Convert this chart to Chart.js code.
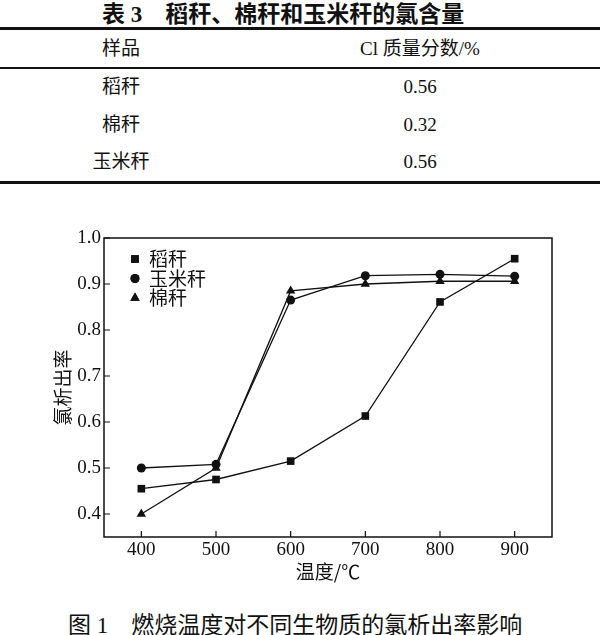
<!DOCTYPE html>
<html>
<head>
<meta charset="utf-8">
<script src="https://cdn.jsdelivr.net/npm/chart.js@4/dist/chart.umd.min.js"></script>
<style>
  body { margin: 0; background: #fff; }
  #page { position: relative; width: 600px; height: 635px; font-family: "Liberation Serif", "Noto Sans CJK SC", serif; color: #111; }
  .t { position: absolute; white-space: nowrap; line-height: 26px; }
  .rule { position: absolute; left: 0; width: 600px; background: #111; }
  #wrap { position: absolute; left: 0; top: 200px; width: 600px; height: 400px; }
</style>
</head>
<body>
<div id="page">
  <div class="t" style="left:102px; top:-1px; font-size:23px; font-weight:bold;">表 3<span style="font-family:'Noto Sans CJK SC'">　稻秆、棉秆和玉米秆的氯含量</span></div>
  <div class="rule" style="top:27px; height:3px;"></div>
  <div class="t" id="h1" style="left:51px; width:140px; text-align:center; top:36px; font-size:19px;"></div>
  <div class="t" id="h2" style="left:300px; width:240px; text-align:center; top:36px; font-size:19px;"></div>
  <div class="rule" style="top:67px; height:1.5px;"></div>
  <div id="rows"></div>
  <div class="rule" style="top:181px; height:3px;"></div>
  <div id="wrap"><canvas id="chart"></canvas></div>
  <div class="t" style="left:68px; top:610px; font-size:23px;">图 1　<span style="font-family:'Noto Sans CJK SC'">燃烧温度对不同生物质的氯析出率影响</span></div>
</div>
<script>
// table 3
const tableHead = ['样品', 'Cl 质量分数/%'];
const samples = ['稻秆', '棉秆', '玉米秆'];
const clContent = ['0.56', '0.32', '0.56'];

// figure 1
const temps = [400, 500, 600, 700, 800, 900];
const seriesNames = ['稻秆', '玉米秆', '棉秆'];
const riceStraw = [0.455, 0.475, 0.515, 0.613, 0.861, 0.955];
const cornStalk = [0.500, 0.508, 0.865, 0.918, 0.921, 0.917];
const cottonStalk = [0.400, 0.500, 0.885, 0.900, 0.906, 0.906];
const xTicks = [400, 500, 600, 700, 800, 900];
const yTicks = [0.4, 0.5, 0.6, 0.7, 0.8, 0.9, 1.0];

document.getElementById('h1').textContent = tableHead[0];
document.getElementById('h2').textContent = tableHead[1];
const rowsDiv = document.getElementById('rows');
const rowY = [74, 112, 149];
samples.forEach((s, i) => {
  const a = document.createElement('div');
  a.className = 't';
  a.style.cssText = `left:51px; width:140px; text-align:center; top:${rowY[i]}px; font-size:19px;`;
  a.textContent = s;
  const b = document.createElement('div');
  b.className = 't';
  b.style.cssText = `left:300px; width:240px; text-align:center; top:${rowY[i]}px; font-size:19px;`;
  b.textContent = clContent[i];
  rowsDiv.appendChild(a);
  rowsDiv.appendChild(b);
});

Chart.defaults.font.family = '"Liberation Serif", "Noto Sans CJK SC", serif';
Chart.defaults.color = '#111';

const pts = arr => temps.map((t, i) => ({ x: t, y: arr[i] }));
const styles = [
  { pointStyle: 'rect', pointRadius: 5.4 },
  { pointStyle: 'circle', pointRadius: 4.5 },
  { pointStyle: 'triangle', pointRadius: 5.4 }
];

// frame, inward ticks and legend inside the plot
const framePlugin = {
  id: 'frame',
  afterDraw(chart) {
    const { ctx, chartArea: a, scales } = chart;
    ctx.save();
    ctx.strokeStyle = '#111';
    ctx.lineWidth = 1.5;
    ctx.strokeRect(a.left, a.top, a.right - a.left, a.bottom - a.top);
    ctx.lineWidth = 1.2;
    ctx.beginPath();
    xTicks.forEach(v => {
      const x = scales.x.getPixelForValue(v);
      ctx.moveTo(x, a.bottom);
      ctx.lineTo(x, a.bottom - 6);
    });
    yTicks.forEach(v => {
      const y = scales.y.getPixelForValue(v);
      ctx.moveTo(a.left, y);
      ctx.lineTo(a.left + 6, y);
    });
    ctx.stroke();

    const lx = a.left + 31, ly = a.top + 21, step = 19.5;
    chart.data.datasets.forEach((ds, i) => {
      const y = ly + i * step;
      ctx.fillStyle = '#111';
      Chart.helpers.drawPoint(ctx, { pointStyle: ds.pointStyle, radius: ds.pointRadius, rotation: 0, borderWidth: 0 }, lx, y);
      ctx.fill();
      ctx.font = '19px "Noto Sans CJK SC"';
      ctx.textBaseline = 'middle';
      ctx.fillText(ds.label, lx + 14, y);
    });
    ctx.restore();
  }
};

new Chart(document.getElementById('chart'), {
  type: 'line',
  data: {
    datasets: [riceStraw, cornStalk, cottonStalk].map((arr, i) => ({
      label: seriesNames[i],
      data: pts(arr),
      borderColor: '#111',
      backgroundColor: '#111',
      borderWidth: 1.3,
      pointBorderWidth: 0,
      pointHoverRadius: styles[i].pointRadius,
      tension: 0,
      ...styles[i]
    }))
  },
  options: {
    responsive: true,
    maintainAspectRatio: false,
    animation: false,
    layout: { padding: { left: 0, top: 38, right: 48, bottom: 13 } },
    plugins: { legend: { display: false }, tooltip: { enabled: false } },
    scales: {
      x: {
        type: 'linear',
        min: 350,
        max: 950,
        afterBuildTicks: s => { s.ticks = xTicks.map(v => ({ value: v })); },
        afterFit: s => { s.height = 50; },
        grid: { display: false, drawTicks: false },
        border: { display: false },
        ticks: { font: { size: 19 }, padding: 2 },
        title: { display: true, text: '温度/℃', font: { size: 19, family: '"Noto Sans CJK SC"' }, padding: { top: 2 } }
      },
      y: {
        min: 0.35,
        max: 1.0,
        afterBuildTicks: s => { s.ticks = yTicks.map(v => ({ value: v })); },
        afterFit: s => { s.width = 104; },
        grid: { display: false, drawTicks: false },
        border: { display: false },
        ticks: { font: { size: 19 }, padding: 3, callback: v => v.toFixed(1) },
        title: { display: true, text: '氯析出率', font: { size: 19, family: '"Noto Sans CJK SC"' }, padding: { top: 51, bottom: 0 } }
      }
    }
  },
  plugins: [framePlugin]
});
</script>
</body>
</html>
